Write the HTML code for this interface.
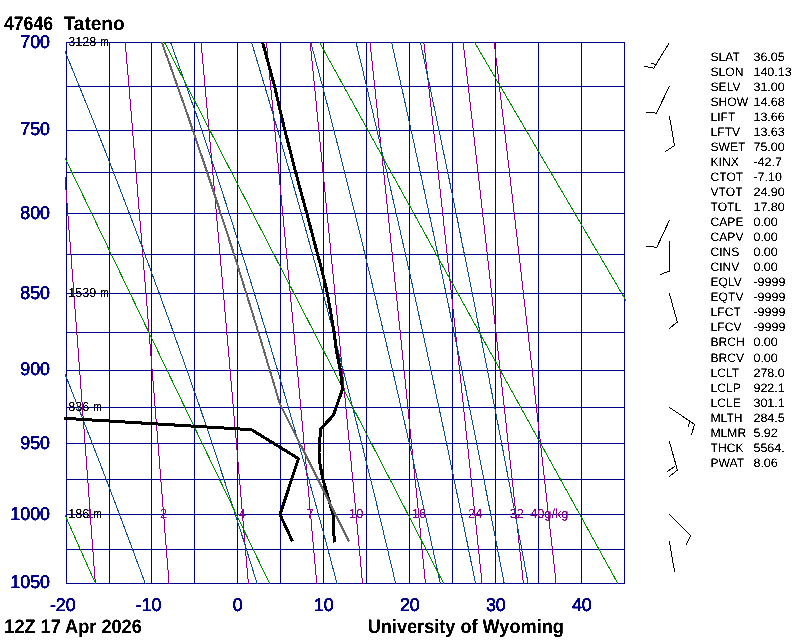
<!DOCTYPE html>
<html><head><meta charset="utf-8"><title>47646 Tateno Sounding</title>
<style>
html,body{margin:0;padding:0;background:#fff;}
body{width:800px;height:640px;overflow:hidden;}
svg{display:block;font-family:"Liberation Sans",Arial,Helvetica,sans-serif;}
</style></head><body>
<svg width="800" height="640" viewBox="0 0 800 640" shape-rendering="crispEdges" text-rendering="geometricPrecision">
<defs><filter id="th" color-interpolation-filters="sRGB"><feComponentTransfer><feFuncA type="linear" slope="3" intercept="-0.8"/></feComponentTransfer></filter><clipPath id="c"><rect x="65" y="42" width="561" height="542"/></clipPath></defs>
<rect width="800" height="640" fill="#fff"/>
<path d="M66.5 42V584M109.5 42V584M151.5 42V584M194.5 42V584M237.5 42V584M280.5 42V584M323.5 42V584M366.5 42V584M409.5 42V584M452.5 42V584M495.5 42V584M538.5 42V584M581.5 42V584M624.5 42V584M66 42.5H625M66 86.5H625M66 130.5H625M66 172.5H625M66 213.5H625M66 254.5H625M66 293.5H625M66 332.5H625M66 370.5H625M66 407.5H625M66 443.5H625M66 479.5H625M66 514.5H625M66 549.5H625M66 583.5H625" stroke="#00008b" stroke-width="1" fill="none"/>
<g clip-path="url(#c)">
<path d="M54.5 40.5L54.7 43.5L54.9 46.5L55.2 49.5L55.4 52.5L55.7 55.5L55.9 58.5L56.1 61.5L56.4 64.5L56.6 67.5L56.8 70.5L57.1 73.5L57.3 76.5L57.5 79.5L57.8 82.5L58.0 85.5L58.2 88.5L58.4 91.5L58.7 94.5L58.9 97.5L59.1 100.5L59.4 103.5L59.6 106.5L59.8 109.5L60.1 112.5L60.3 115.5L60.5 118.5L60.8 121.5L61.0 124.5L61.2 127.5L61.5 130.5L61.7 133.5L61.9 136.5L62.2 139.5L62.4 142.5L62.6 145.5L62.9 148.5L63.1 151.5L63.3 154.5L63.5 157.5L63.8 160.5L64.0 163.5L64.2 166.5L64.5 169.5L64.7 172.5L64.9 175.5L65.2 178.5L65.4 181.5L65.6 184.5L65.8 187.5L66.1 190.5L66.3 193.5L66.5 196.5L66.8 199.5L67.0 202.5L67.2 205.5L67.4 208.5L67.7 211.5L67.9 214.5L68.1 217.5L68.4 220.5L68.6 223.5L68.8 226.5L69.0 229.5L69.3 232.5L69.5 235.5L69.7 238.5L70.0 241.5L70.2 244.5L70.4 247.5L70.6 250.5L70.9 253.5L71.1 256.5L71.3 259.5L71.5 262.5L71.8 265.5L72.0 268.5L72.2 271.5L72.5 274.5L72.7 277.5L72.9 280.5L73.1 283.5L73.4 286.5L73.6 289.5L73.8 292.5L74.0 295.5L74.3 298.5L74.5 301.5L74.7 304.5L74.9 307.5L75.2 310.5L75.4 313.5L75.6 316.5L75.8 319.5L76.1 322.5L76.3 325.5L76.5 328.5L76.7 331.5L77.0 334.5L77.2 337.5L77.4 340.5L77.6 343.5L77.9 346.5L78.1 349.5L78.3 352.5L78.5 355.5L78.8 358.5L79.0 361.5L79.2 364.5L79.4 367.5L79.7 370.5L79.9 373.5L80.1 376.5L80.3 379.5L80.6 382.5L80.8 385.5L81.0 388.5L81.2 391.5L81.4 394.5L81.7 397.5L81.9 400.5L82.1 403.5L82.3 406.5L82.6 409.5L82.8 412.5L83.0 415.5L83.2 418.5L83.4 421.5L83.7 424.5L83.9 427.5L84.1 430.5L84.3 433.5L84.6 436.5L84.8 439.5L85.0 442.5L85.2 445.5L85.4 448.5L85.7 451.5L85.9 454.5L86.1 457.5L86.3 460.5L86.5 463.5L86.8 466.5L87.0 469.5L87.2 472.5L87.4 475.5L87.6 478.5L87.9 481.5L88.1 484.5L88.3 487.5L88.5 490.5L88.8 493.5L89.0 496.5L89.2 499.5L89.4 502.5L89.6 505.5L89.8 508.5L90.1 511.5L90.3 514.5L90.5 517.5L90.7 520.5L90.9 523.5L91.2 526.5L91.4 529.5L91.6 532.5L91.8 535.5L92.0 538.5L92.3 541.5L92.5 544.5L92.7 547.5L92.9 550.5L93.1 553.5L93.3 556.5L93.6 559.5L93.8 562.5L94.0 565.5L94.2 568.5L94.4 571.5L94.7 574.5L94.9 577.5L95.1 580.5L95.3 583.5L95.5 586.5" stroke="#8b008b" stroke-width="1" fill="none" />
<path d="M125.1 40.5L125.3 43.5L125.6 46.5L125.8 49.5L126.1 52.5L126.3 55.5L126.6 58.5L126.8 61.5L127.1 64.5L127.3 67.5L127.6 70.5L127.9 73.5L128.1 76.5L128.4 79.5L128.6 82.5L128.9 85.5L129.1 88.5L129.4 91.5L129.6 94.5L129.9 97.5L130.1 100.5L130.4 103.5L130.6 106.5L130.9 109.5L131.1 112.5L131.4 115.5L131.6 118.5L131.9 121.5L132.1 124.5L132.3 127.5L132.6 130.5L132.8 133.5L133.1 136.5L133.3 139.5L133.6 142.5L133.8 145.5L134.1 148.5L134.3 151.5L134.6 154.5L134.8 157.5L135.1 160.5L135.3 163.5L135.6 166.5L135.8 169.5L136.1 172.5L136.3 175.5L136.6 178.5L136.8 181.5L137.1 184.5L137.3 187.5L137.6 190.5L137.8 193.5L138.0 196.5L138.3 199.5L138.5 202.5L138.8 205.5L139.0 208.5L139.3 211.5L139.5 214.5L139.8 217.5L140.0 220.5L140.3 223.5L140.5 226.5L140.8 229.5L141.0 232.5L141.2 235.5L141.5 238.5L141.7 241.5L142.0 244.5L142.2 247.5L142.5 250.5L142.7 253.5L143.0 256.5L143.2 259.5L143.4 262.5L143.7 265.5L143.9 268.5L144.2 271.5L144.4 274.5L144.7 277.5L144.9 280.5L145.2 283.5L145.4 286.5L145.6 289.5L145.9 292.5L146.1 295.5L146.4 298.5L146.6 301.5L146.9 304.5L147.1 307.5L147.3 310.5L147.6 313.5L147.8 316.5L148.1 319.5L148.3 322.5L148.6 325.5L148.8 328.5L149.0 331.5L149.3 334.5L149.5 337.5L149.8 340.5L150.0 343.5L150.2 346.5L150.5 349.5L150.7 352.5L151.0 355.5L151.2 358.5L151.5 361.5L151.7 364.5L151.9 367.5L152.2 370.5L152.4 373.5L152.7 376.5L152.9 379.5L153.1 382.5L153.4 385.5L153.6 388.5L153.9 391.5L154.1 394.5L154.3 397.5L154.6 400.5L154.8 403.5L155.1 406.5L155.3 409.5L155.5 412.5L155.8 415.5L156.0 418.5L156.3 421.5L156.5 424.5L156.7 427.5L157.0 430.5L157.2 433.5L157.4 436.5L157.7 439.5L157.9 442.5L158.2 445.5L158.4 448.5L158.6 451.5L158.9 454.5L159.1 457.5L159.4 460.5L159.6 463.5L159.8 466.5L160.1 469.5L160.3 472.5L160.5 475.5L160.8 478.5L161.0 481.5L161.3 484.5L161.5 487.5L161.7 490.5L162.0 493.5L162.2 496.5L162.4 499.5L162.7 502.5L162.9 505.5L163.1 508.5L163.4 511.5L163.6 514.5L163.9 517.5L164.1 520.5L164.3 523.5L164.6 526.5L164.8 529.5L165.0 532.5L165.3 535.5L165.5 538.5L165.7 541.5L166.0 544.5L166.2 547.5L166.4 550.5L166.7 553.5L166.9 556.5L167.2 559.5L167.4 562.5L167.6 565.5L167.9 568.5L168.1 571.5L168.3 574.5L168.6 577.5L168.8 580.5L169.0 583.5L169.3 586.5" stroke="#8b008b" stroke-width="1" fill="none" />
<path d="M200.9 40.5L201.2 43.5L201.5 46.5L201.8 49.5L202.0 52.5L202.3 55.5L202.6 58.5L202.8 61.5L203.1 64.5L203.4 67.5L203.7 70.5L203.9 73.5L204.2 76.5L204.5 79.5L204.7 82.5L205.0 85.5L205.3 88.5L205.5 91.5L205.8 94.5L206.1 97.5L206.4 100.5L206.6 103.5L206.9 106.5L207.2 109.5L207.4 112.5L207.7 115.5L208.0 118.5L208.2 121.5L208.5 124.5L208.8 127.5L209.0 130.5L209.3 133.5L209.6 136.5L209.8 139.5L210.1 142.5L210.4 145.5L210.6 148.5L210.9 151.5L211.2 154.5L211.5 157.5L211.7 160.5L212.0 163.5L212.3 166.5L212.5 169.5L212.8 172.5L213.1 175.5L213.3 178.5L213.6 181.5L213.9 184.5L214.1 187.5L214.4 190.5L214.7 193.5L214.9 196.5L215.2 199.5L215.4 202.5L215.7 205.5L216.0 208.5L216.2 211.5L216.5 214.5L216.8 217.5L217.0 220.5L217.3 223.5L217.6 226.5L217.8 229.5L218.1 232.5L218.4 235.5L218.6 238.5L218.9 241.5L219.2 244.5L219.4 247.5L219.7 250.5L220.0 253.5L220.2 256.5L220.5 259.5L220.7 262.5L221.0 265.5L221.3 268.5L221.5 271.5L221.8 274.5L222.1 277.5L222.3 280.5L222.6 283.5L222.8 286.5L223.1 289.5L223.4 292.5L223.6 295.5L223.9 298.5L224.2 301.5L224.4 304.5L224.7 307.5L224.9 310.5L225.2 313.5L225.5 316.5L225.7 319.5L226.0 322.5L226.3 325.5L226.5 328.5L226.8 331.5L227.0 334.5L227.3 337.5L227.6 340.5L227.8 343.5L228.1 346.5L228.3 349.5L228.6 352.5L228.9 355.5L229.1 358.5L229.4 361.5L229.6 364.5L229.9 367.5L230.2 370.5L230.4 373.5L230.7 376.5L230.9 379.5L231.2 382.5L231.5 385.5L231.7 388.5L232.0 391.5L232.2 394.5L232.5 397.5L232.8 400.5L233.0 403.5L233.3 406.5L233.5 409.5L233.8 412.5L234.0 415.5L234.3 418.5L234.6 421.5L234.8 424.5L235.1 427.5L235.3 430.5L235.6 433.5L235.9 436.5L236.1 439.5L236.4 442.5L236.6 445.5L236.9 448.5L237.1 451.5L237.4 454.5L237.7 457.5L237.9 460.5L238.2 463.5L238.4 466.5L238.7 469.5L238.9 472.5L239.2 475.5L239.5 478.5L239.7 481.5L240.0 484.5L240.2 487.5L240.5 490.5L240.7 493.5L241.0 496.5L241.2 499.5L241.5 502.5L241.8 505.5L242.0 508.5L242.3 511.5L242.5 514.5L242.8 517.5L243.0 520.5L243.3 523.5L243.5 526.5L243.8 529.5L244.0 532.5L244.3 535.5L244.6 538.5L244.8 541.5L245.1 544.5L245.3 547.5L245.6 550.5L245.8 553.5L246.1 556.5L246.3 559.5L246.6 562.5L246.8 565.5L247.1 568.5L247.3 571.5L247.6 574.5L247.9 577.5L248.1 580.5L248.4 583.5L248.6 586.5" stroke="#8b008b" stroke-width="1" fill="none" />
<path d="M266.3 40.5L266.6 43.5L266.9 46.5L267.2 49.5L267.5 52.5L267.7 55.5L268.0 58.5L268.3 61.5L268.6 64.5L268.9 67.5L269.2 70.5L269.5 73.5L269.8 76.5L270.0 79.5L270.3 82.5L270.6 85.5L270.9 88.5L271.2 91.5L271.5 94.5L271.8 97.5L272.1 100.5L272.3 103.5L272.6 106.5L272.9 109.5L273.2 112.5L273.5 115.5L273.8 118.5L274.1 121.5L274.3 124.5L274.6 127.5L274.9 130.5L275.2 133.5L275.5 136.5L275.8 139.5L276.1 142.5L276.3 145.5L276.6 148.5L276.9 151.5L277.2 154.5L277.5 157.5L277.8 160.5L278.1 163.5L278.3 166.5L278.6 169.5L278.9 172.5L279.2 175.5L279.5 178.5L279.8 181.5L280.0 184.5L280.3 187.5L280.6 190.5L280.9 193.5L281.2 196.5L281.5 199.5L281.7 202.5L282.0 205.5L282.3 208.5L282.6 211.5L282.9 214.5L283.2 217.5L283.4 220.5L283.7 223.5L284.0 226.5L284.3 229.5L284.6 232.5L284.9 235.5L285.1 238.5L285.4 241.5L285.7 244.5L286.0 247.5L286.3 250.5L286.5 253.5L286.8 256.5L287.1 259.5L287.4 262.5L287.7 265.5L287.9 268.5L288.2 271.5L288.5 274.5L288.8 277.5L289.1 280.5L289.3 283.5L289.6 286.5L289.9 289.5L290.2 292.5L290.5 295.5L290.7 298.5L291.0 301.5L291.3 304.5L291.6 307.5L291.9 310.5L292.1 313.5L292.4 316.5L292.7 319.5L293.0 322.5L293.3 325.5L293.5 328.5L293.8 331.5L294.1 334.5L294.4 337.5L294.6 340.5L294.9 343.5L295.2 346.5L295.5 349.5L295.8 352.5L296.0 355.5L296.3 358.5L296.6 361.5L296.9 364.5L297.1 367.5L297.4 370.5L297.7 373.5L298.0 376.5L298.3 379.5L298.5 382.5L298.8 385.5L299.1 388.5L299.4 391.5L299.6 394.5L299.9 397.5L300.2 400.5L300.5 403.5L300.7 406.5L301.0 409.5L301.3 412.5L301.6 415.5L301.8 418.5L302.1 421.5L302.4 424.5L302.7 427.5L302.9 430.5L303.2 433.5L303.5 436.5L303.8 439.5L304.0 442.5L304.3 445.5L304.6 448.5L304.9 451.5L305.1 454.5L305.4 457.5L305.7 460.5L306.0 463.5L306.2 466.5L306.5 469.5L306.8 472.5L307.0 475.5L307.3 478.5L307.6 481.5L307.9 484.5L308.1 487.5L308.4 490.5L308.7 493.5L309.0 496.5L309.2 499.5L309.5 502.5L309.8 505.5L310.0 508.5L310.3 511.5L310.6 514.5L310.9 517.5L311.1 520.5L311.4 523.5L311.7 526.5L311.9 529.5L312.2 532.5L312.5 535.5L312.8 538.5L313.0 541.5L313.3 544.5L313.6 547.5L313.8 550.5L314.1 553.5L314.4 556.5L314.7 559.5L314.9 562.5L315.2 565.5L315.5 568.5L315.7 571.5L316.0 574.5L316.3 577.5L316.5 580.5L316.8 583.5L317.1 586.5" stroke="#8b008b" stroke-width="1" fill="none" />
<path d="M309.9 40.5L310.2 43.5L310.5 46.5L310.9 49.5L311.2 52.5L311.5 55.5L311.8 58.5L312.1 61.5L312.4 64.5L312.7 67.5L313.0 70.5L313.3 73.5L313.6 76.5L313.9 79.5L314.2 82.5L314.5 85.5L314.8 88.5L315.1 91.5L315.4 94.5L315.7 97.5L316.0 100.5L316.2 103.5L316.5 106.5L316.8 109.5L317.1 112.5L317.4 115.5L317.7 118.5L318.0 121.5L318.3 124.5L318.6 127.5L318.9 130.5L319.2 133.5L319.5 136.5L319.8 139.5L320.1 142.5L320.4 145.5L320.7 148.5L321.0 151.5L321.3 154.5L321.6 157.5L321.9 160.5L322.2 163.5L322.5 166.5L322.8 169.5L323.1 172.5L323.4 175.5L323.7 178.5L324.0 181.5L324.3 184.5L324.6 187.5L324.9 190.5L325.2 193.5L325.5 196.5L325.7 199.5L326.0 202.5L326.3 205.5L326.6 208.5L326.9 211.5L327.2 214.5L327.5 217.5L327.8 220.5L328.1 223.5L328.4 226.5L328.7 229.5L329.0 232.5L329.3 235.5L329.6 238.5L329.9 241.5L330.2 244.5L330.5 247.5L330.7 250.5L331.0 253.5L331.3 256.5L331.6 259.5L331.9 262.5L332.2 265.5L332.5 268.5L332.8 271.5L333.1 274.5L333.4 277.5L333.7 280.5L334.0 283.5L334.3 286.5L334.5 289.5L334.8 292.5L335.1 295.5L335.4 298.5L335.7 301.5L336.0 304.5L336.3 307.5L336.6 310.5L336.9 313.5L337.2 316.5L337.5 319.5L337.7 322.5L338.0 325.5L338.3 328.5L338.6 331.5L338.9 334.5L339.2 337.5L339.5 340.5L339.8 343.5L340.1 346.5L340.4 349.5L340.6 352.5L340.9 355.5L341.2 358.5L341.5 361.5L341.8 364.5L342.1 367.5L342.4 370.5L342.7 373.5L343.0 376.5L343.2 379.5L343.5 382.5L343.8 385.5L344.1 388.5L344.4 391.5L344.7 394.5L345.0 397.5L345.3 400.5L345.5 403.5L345.8 406.5L346.1 409.5L346.4 412.5L346.7 415.5L347.0 418.5L347.3 421.5L347.6 424.5L347.8 427.5L348.1 430.5L348.4 433.5L348.7 436.5L349.0 439.5L349.3 442.5L349.6 445.5L349.8 448.5L350.1 451.5L350.4 454.5L350.7 457.5L351.0 460.5L351.3 463.5L351.6 466.5L351.8 469.5L352.1 472.5L352.4 475.5L352.7 478.5L353.0 481.5L353.3 484.5L353.6 487.5L353.8 490.5L354.1 493.5L354.4 496.5L354.7 499.5L355.0 502.5L355.3 505.5L355.5 508.5L355.8 511.5L356.1 514.5L356.4 517.5L356.7 520.5L357.0 523.5L357.2 526.5L357.5 529.5L357.8 532.5L358.1 535.5L358.4 538.5L358.7 541.5L358.9 544.5L359.2 547.5L359.5 550.5L359.8 553.5L360.1 556.5L360.3 559.5L360.6 562.5L360.9 565.5L361.2 568.5L361.5 571.5L361.8 574.5L362.0 577.5L362.3 580.5L362.6 583.5L362.9 586.5" stroke="#8b008b" stroke-width="1" fill="none" />
<path d="M369.9 40.5L370.2 43.5L370.5 46.5L370.8 49.5L371.1 52.5L371.5 55.5L371.8 58.5L372.1 61.5L372.4 64.5L372.7 67.5L373.0 70.5L373.4 73.5L373.7 76.5L374.0 79.5L374.3 82.5L374.6 85.5L374.9 88.5L375.3 91.5L375.6 94.5L375.9 97.5L376.2 100.5L376.5 103.5L376.8 106.5L377.2 109.5L377.5 112.5L377.8 115.5L378.1 118.5L378.4 121.5L378.7 124.5L379.0 127.5L379.4 130.5L379.7 133.5L380.0 136.5L380.3 139.5L380.6 142.5L380.9 145.5L381.2 148.5L381.6 151.5L381.9 154.5L382.2 157.5L382.5 160.5L382.8 163.5L383.1 166.5L383.4 169.5L383.8 172.5L384.1 175.5L384.4 178.5L384.7 181.5L385.0 184.5L385.3 187.5L385.6 190.5L385.9 193.5L386.3 196.5L386.6 199.5L386.9 202.5L387.2 205.5L387.5 208.5L387.8 211.5L388.1 214.5L388.4 217.5L388.7 220.5L389.1 223.5L389.4 226.5L389.7 229.5L390.0 232.5L390.3 235.5L390.6 238.5L390.9 241.5L391.2 244.5L391.5 247.5L391.8 250.5L392.2 253.5L392.5 256.5L392.8 259.5L393.1 262.5L393.4 265.5L393.7 268.5L394.0 271.5L394.3 274.5L394.6 277.5L394.9 280.5L395.2 283.5L395.6 286.5L395.9 289.5L396.2 292.5L396.5 295.5L396.8 298.5L397.1 301.5L397.4 304.5L397.7 307.5L398.0 310.5L398.3 313.5L398.6 316.5L398.9 319.5L399.2 322.5L399.6 325.5L399.9 328.5L400.2 331.5L400.5 334.5L400.8 337.5L401.1 340.5L401.4 343.5L401.7 346.5L402.0 349.5L402.3 352.5L402.6 355.5L402.9 358.5L403.2 361.5L403.5 364.5L403.8 367.5L404.1 370.5L404.4 373.5L404.7 376.5L405.1 379.5L405.4 382.5L405.7 385.5L406.0 388.5L406.3 391.5L406.6 394.5L406.9 397.5L407.2 400.5L407.5 403.5L407.8 406.5L408.1 409.5L408.4 412.5L408.7 415.5L409.0 418.5L409.3 421.5L409.6 424.5L409.9 427.5L410.2 430.5L410.5 433.5L410.8 436.5L411.1 439.5L411.4 442.5L411.7 445.5L412.0 448.5L412.3 451.5L412.6 454.5L412.9 457.5L413.2 460.5L413.5 463.5L413.8 466.5L414.1 469.5L414.4 472.5L414.7 475.5L415.0 478.5L415.3 481.5L415.7 484.5L416.0 487.5L416.3 490.5L416.6 493.5L416.9 496.5L417.2 499.5L417.5 502.5L417.8 505.5L418.1 508.5L418.4 511.5L418.7 514.5L419.0 517.5L419.3 520.5L419.6 523.5L419.9 526.5L420.2 529.5L420.4 532.5L420.7 535.5L421.0 538.5L421.3 541.5L421.6 544.5L421.9 547.5L422.2 550.5L422.5 553.5L422.8 556.5L423.1 559.5L423.4 562.5L423.7 565.5L424.0 568.5L424.3 571.5L424.6 574.5L424.9 577.5L425.2 580.5L425.5 583.5L425.8 586.5" stroke="#8b008b" stroke-width="1" fill="none" />
<path d="M423.7 40.5L424.0 43.5L424.4 46.5L424.7 49.5L425.0 52.5L425.4 55.5L425.7 58.5L426.0 61.5L426.4 64.5L426.7 67.5L427.0 70.5L427.4 73.5L427.7 76.5L428.0 79.5L428.4 82.5L428.7 85.5L429.0 88.5L429.3 91.5L429.7 94.5L430.0 97.5L430.3 100.5L430.7 103.5L431.0 106.5L431.3 109.5L431.7 112.5L432.0 115.5L432.3 118.5L432.7 121.5L433.0 124.5L433.3 127.5L433.7 130.5L434.0 133.5L434.3 136.5L434.6 139.5L435.0 142.5L435.3 145.5L435.6 148.5L436.0 151.5L436.3 154.5L436.6 157.5L436.9 160.5L437.3 163.5L437.6 166.5L437.9 169.5L438.3 172.5L438.6 175.5L438.9 178.5L439.2 181.5L439.6 184.5L439.9 187.5L440.2 190.5L440.6 193.5L440.9 196.5L441.2 199.5L441.5 202.5L441.9 205.5L442.2 208.5L442.5 211.5L442.8 214.5L443.2 217.5L443.5 220.5L443.8 223.5L444.1 226.5L444.5 229.5L444.8 232.5L445.1 235.5L445.4 238.5L445.8 241.5L446.1 244.5L446.4 247.5L446.8 250.5L447.1 253.5L447.4 256.5L447.7 259.5L448.0 262.5L448.4 265.5L448.7 268.5L449.0 271.5L449.3 274.5L449.7 277.5L450.0 280.5L450.3 283.5L450.6 286.5L451.0 289.5L451.3 292.5L451.6 295.5L451.9 298.5L452.3 301.5L452.6 304.5L452.9 307.5L453.2 310.5L453.5 313.5L453.9 316.5L454.2 319.5L454.5 322.5L454.8 325.5L455.2 328.5L455.5 331.5L455.8 334.5L456.1 337.5L456.4 340.5L456.8 343.5L457.1 346.5L457.4 349.5L457.7 352.5L458.1 355.5L458.4 358.5L458.7 361.5L459.0 364.5L459.3 367.5L459.7 370.5L460.0 373.5L460.3 376.5L460.6 379.5L460.9 382.5L461.3 385.5L461.6 388.5L461.9 391.5L462.2 394.5L462.5 397.5L462.9 400.5L463.2 403.5L463.5 406.5L463.8 409.5L464.1 412.5L464.4 415.5L464.8 418.5L465.1 421.5L465.4 424.5L465.7 427.5L466.0 430.5L466.4 433.5L466.7 436.5L467.0 439.5L467.3 442.5L467.6 445.5L467.9 448.5L468.3 451.5L468.6 454.5L468.9 457.5L469.2 460.5L469.5 463.5L469.8 466.5L470.2 469.5L470.5 472.5L470.8 475.5L471.1 478.5L471.4 481.5L471.7 484.5L472.1 487.5L472.4 490.5L472.7 493.5L473.0 496.5L473.3 499.5L473.6 502.5L474.0 505.5L474.3 508.5L474.6 511.5L474.9 514.5L475.2 517.5L475.5 520.5L475.8 523.5L476.2 526.5L476.5 529.5L476.8 532.5L477.1 535.5L477.4 538.5L477.7 541.5L478.0 544.5L478.4 547.5L478.7 550.5L479.0 553.5L479.3 556.5L479.6 559.5L479.9 562.5L480.2 565.5L480.5 568.5L480.9 571.5L481.2 574.5L481.5 577.5L481.8 580.5L482.1 583.5L482.4 586.5" stroke="#8b008b" stroke-width="1" fill="none" />
<path d="M463.0 40.5L463.3 43.5L463.7 46.5L464.0 49.5L464.4 52.5L464.7 55.5L465.1 58.5L465.4 61.5L465.7 64.5L466.1 67.5L466.4 70.5L466.8 73.5L467.1 76.5L467.5 79.5L467.8 82.5L468.2 85.5L468.5 88.5L468.8 91.5L469.2 94.5L469.5 97.5L469.9 100.5L470.2 103.5L470.6 106.5L470.9 109.5L471.2 112.5L471.6 115.5L471.9 118.5L472.3 121.5L472.6 124.5L472.9 127.5L473.3 130.5L473.6 133.5L474.0 136.5L474.3 139.5L474.7 142.5L475.0 145.5L475.3 148.5L475.7 151.5L476.0 154.5L476.4 157.5L476.7 160.5L477.0 163.5L477.4 166.5L477.7 169.5L478.1 172.5L478.4 175.5L478.7 178.5L479.1 181.5L479.4 184.5L479.8 187.5L480.1 190.5L480.4 193.5L480.8 196.5L481.1 199.5L481.5 202.5L481.8 205.5L482.1 208.5L482.5 211.5L482.8 214.5L483.1 217.5L483.5 220.5L483.8 223.5L484.2 226.5L484.5 229.5L484.8 232.5L485.2 235.5L485.5 238.5L485.8 241.5L486.2 244.5L486.5 247.5L486.9 250.5L487.2 253.5L487.5 256.5L487.9 259.5L488.2 262.5L488.5 265.5L488.9 268.5L489.2 271.5L489.5 274.5L489.9 277.5L490.2 280.5L490.5 283.5L490.9 286.5L491.2 289.5L491.5 292.5L491.9 295.5L492.2 298.5L492.6 301.5L492.9 304.5L493.2 307.5L493.6 310.5L493.9 313.5L494.2 316.5L494.6 319.5L494.9 322.5L495.2 325.5L495.6 328.5L495.9 331.5L496.2 334.5L496.6 337.5L496.9 340.5L497.2 343.5L497.6 346.5L497.9 349.5L498.2 352.5L498.6 355.5L498.9 358.5L499.2 361.5L499.5 364.5L499.9 367.5L500.2 370.5L500.5 373.5L500.9 376.5L501.2 379.5L501.5 382.5L501.9 385.5L502.2 388.5L502.5 391.5L502.9 394.5L503.2 397.5L503.5 400.5L503.9 403.5L504.2 406.5L504.5 409.5L504.8 412.5L505.2 415.5L505.5 418.5L505.8 421.5L506.2 424.5L506.5 427.5L506.8 430.5L507.1 433.5L507.5 436.5L507.8 439.5L508.1 442.5L508.5 445.5L508.8 448.5L509.1 451.5L509.4 454.5L509.8 457.5L510.1 460.5L510.4 463.5L510.8 466.5L511.1 469.5L511.4 472.5L511.7 475.5L512.1 478.5L512.4 481.5L512.7 484.5L513.1 487.5L513.4 490.5L513.7 493.5L514.0 496.5L514.4 499.5L514.7 502.5L515.0 505.5L515.3 508.5L515.7 511.5L516.0 514.5L516.3 517.5L516.6 520.5L517.0 523.5L517.3 526.5L517.6 529.5L517.9 532.5L518.3 535.5L518.6 538.5L518.9 541.5L519.2 544.5L519.6 547.5L519.9 550.5L520.2 553.5L520.5 556.5L520.9 559.5L521.2 562.5L521.5 565.5L521.8 568.5L522.2 571.5L522.5 574.5L522.8 577.5L523.1 580.5L523.5 583.5L523.8 586.5" stroke="#8b008b" stroke-width="1" fill="none" />
<path d="M494.0 40.5L494.4 43.5L494.7 46.5L495.1 49.5L495.4 52.5L495.8 55.5L496.1 58.5L496.5 61.5L496.9 64.5L497.2 67.5L497.6 70.5L497.9 73.5L498.3 76.5L498.6 79.5L499.0 82.5L499.3 85.5L499.7 88.5L500.0 91.5L500.4 94.5L500.7 97.5L501.1 100.5L501.4 103.5L501.8 106.5L502.1 109.5L502.5 112.5L502.9 115.5L503.2 118.5L503.6 121.5L503.9 124.5L504.3 127.5L504.6 130.5L505.0 133.5L505.3 136.5L505.7 139.5L506.0 142.5L506.4 145.5L506.7 148.5L507.1 151.5L507.4 154.5L507.8 157.5L508.1 160.5L508.5 163.5L508.8 166.5L509.2 169.5L509.5 172.5L509.9 175.5L510.2 178.5L510.6 181.5L510.9 184.5L511.2 187.5L511.6 190.5L511.9 193.5L512.3 196.5L512.6 199.5L513.0 202.5L513.3 205.5L513.7 208.5L514.0 211.5L514.4 214.5L514.7 217.5L515.1 220.5L515.4 223.5L515.8 226.5L516.1 229.5L516.5 232.5L516.8 235.5L517.2 238.5L517.5 241.5L517.8 244.5L518.2 247.5L518.5 250.5L518.9 253.5L519.2 256.5L519.6 259.5L519.9 262.5L520.3 265.5L520.6 268.5L521.0 271.5L521.3 274.5L521.6 277.5L522.0 280.5L522.3 283.5L522.7 286.5L523.0 289.5L523.4 292.5L523.7 295.5L524.0 298.5L524.4 301.5L524.7 304.5L525.1 307.5L525.4 310.5L525.8 313.5L526.1 316.5L526.5 319.5L526.8 322.5L527.1 325.5L527.5 328.5L527.8 331.5L528.2 334.5L528.5 337.5L528.8 340.5L529.2 343.5L529.5 346.5L529.9 349.5L530.2 352.5L530.6 355.5L530.9 358.5L531.2 361.5L531.6 364.5L531.9 367.5L532.3 370.5L532.6 373.5L532.9 376.5L533.3 379.5L533.6 382.5L534.0 385.5L534.3 388.5L534.6 391.5L535.0 394.5L535.3 397.5L535.7 400.5L536.0 403.5L536.3 406.5L536.7 409.5L537.0 412.5L537.4 415.5L537.7 418.5L538.0 421.5L538.4 424.5L538.7 427.5L539.0 430.5L539.4 433.5L539.7 436.5L540.1 439.5L540.4 442.5L540.7 445.5L541.1 448.5L541.4 451.5L541.8 454.5L542.1 457.5L542.4 460.5L542.8 463.5L543.1 466.5L543.4 469.5L543.8 472.5L544.1 475.5L544.4 478.5L544.8 481.5L545.1 484.5L545.5 487.5L545.8 490.5L546.1 493.5L546.5 496.5L546.8 499.5L547.1 502.5L547.5 505.5L547.8 508.5L548.1 511.5L548.5 514.5L548.8 517.5L549.1 520.5L549.5 523.5L549.8 526.5L550.1 529.5L550.5 532.5L550.8 535.5L551.2 538.5L551.5 541.5L551.8 544.5L552.2 547.5L552.5 550.5L552.8 553.5L553.2 556.5L553.5 559.5L553.8 562.5L554.2 565.5L554.5 568.5L554.8 571.5L555.2 574.5L555.5 577.5L555.8 580.5L556.1 583.5L556.5 586.5" stroke="#8b008b" stroke-width="1" fill="none" />
<path d="M-75.0 40.5L-73.7 43.5L-72.4 46.5L-71.1 49.5L-69.8 52.5L-68.5 55.5L-67.2 58.5L-65.9 61.5L-64.5 64.5L-63.2 67.5L-61.9 70.5L-60.6 73.5L-59.3 76.5L-58.0 79.5L-56.7 82.5L-55.4 85.5L-54.1 88.5L-52.8 91.5L-51.5 94.5L-50.2 97.5L-48.9 100.5L-47.6 103.5L-46.3 106.5L-45.0 109.5L-43.7 112.5L-42.4 115.5L-41.1 118.5L-39.8 121.5L-38.6 124.5L-37.3 127.5L-36.0 130.5L-34.7 133.5L-33.4 136.5L-32.1 139.5L-30.8 142.5L-29.5 145.5L-28.3 148.5L-27.0 151.5L-25.7 154.5L-24.4 157.5L-23.1 160.5L-21.9 163.5L-20.6 166.5L-19.3 169.5L-18.0 172.5L-16.8 175.5L-15.5 178.5L-14.2 181.5L-12.9 184.5L-11.7 187.5L-10.4 190.5L-9.1 193.5L-7.9 196.5L-6.6 199.5L-5.3 202.5L-4.1 205.5L-2.8 208.5L-1.6 211.5L-0.3 214.5L1.0 217.5L2.2 220.5L3.5 223.5L4.7 226.5L6.0 229.5L7.2 232.5L8.5 235.5L9.7 238.5L11.0 241.5L12.2 244.5L13.5 247.5L14.7 250.5L16.0 253.5L17.2 256.5L18.5 259.5L19.7 262.5L21.0 265.5L22.2 268.5L23.4 271.5L24.7 274.5L25.9 277.5L27.1 280.5L28.4 283.5L29.6 286.5L30.8 289.5L32.1 292.5L33.3 295.5L34.5 298.5L35.7 301.5L37.0 304.5L38.2 307.5L39.4 310.5L40.6 313.5L41.9 316.5L43.1 319.5L44.3 322.5L45.5 325.5L46.7 328.5L47.9 331.5L49.2 334.5L50.4 337.5L51.6 340.5L52.8 343.5L54.0 346.5L55.2 349.5L56.4 352.5L57.6 355.5L58.8 358.5L60.0 361.5L61.2 364.5L62.4 367.5L63.6 370.5L64.8 373.5L66.0 376.5L67.2 379.5L68.4 382.5L69.6 385.5L70.8 388.5L71.9 391.5L73.1 394.5L74.3 397.5L75.5 400.5L76.7 403.5L77.9 406.5L79.0 409.5L80.2 412.5L81.4 415.5L82.6 418.5L83.7 421.5L84.9 424.5L86.1 427.5L87.3 430.5L88.4 433.5L89.6 436.5L90.8 439.5L91.9 442.5L93.1 445.5L94.3 448.5L95.4 451.5L96.6 454.5L97.7 457.5L98.9 460.5L100.1 463.5L101.2 466.5L102.4 469.5L103.5 472.5L104.7 475.5L105.8 478.5L107.0 481.5L108.1 484.5L109.2 487.5L110.4 490.5L111.5 493.5L112.7 496.5L113.8 499.5L115.0 502.5L116.1 505.5L117.2 508.5L118.4 511.5L119.5 514.5L120.6 517.5L121.8 520.5L122.9 523.5L124.0 526.5L125.1 529.5L126.3 532.5L127.4 535.5L128.5 538.5L129.6 541.5L130.8 544.5L131.9 547.5L133.0 550.5L134.1 553.5L135.2 556.5L136.3 559.5L137.4 562.5L138.6 565.5L139.7 568.5L140.8 571.5L141.9 574.5L143.0 577.5L144.1 580.5L145.2 583.5L146.3 586.5" stroke="#104e8b" stroke-width="1" fill="none" />
<path d="M60.5 40.5L61.8 43.5L63.0 46.5L64.2 49.5L65.5 52.5L66.7 55.5L67.9 58.5L69.2 61.5L70.4 64.5L71.6 67.5L72.9 70.5L74.1 73.5L75.3 76.5L76.5 79.5L77.8 82.5L79.0 85.5L80.2 88.5L81.4 91.5L82.6 94.5L83.8 97.5L85.0 100.5L86.3 103.5L87.5 106.5L88.7 109.5L89.9 112.5L91.1 115.5L92.3 118.5L93.5 121.5L94.7 124.5L95.9 127.5L97.1 130.5L98.2 133.5L99.4 136.5L100.6 139.5L101.8 142.5L103.0 145.5L104.2 148.5L105.4 151.5L106.5 154.5L107.7 157.5L108.9 160.5L110.1 163.5L111.2 166.5L112.4 169.5L113.6 172.5L114.7 175.5L115.9 178.5L117.1 181.5L118.2 184.5L119.4 187.5L120.6 190.5L121.7 193.5L122.9 196.5L124.0 199.5L125.2 202.5L126.3 205.5L127.5 208.5L128.6 211.5L129.8 214.5L130.9 217.5L132.0 220.5L133.2 223.5L134.3 226.5L135.5 229.5L136.6 232.5L137.7 235.5L138.9 238.5L140.0 241.5L141.1 244.5L142.3 247.5L143.4 250.5L144.5 253.5L145.6 256.5L146.7 259.5L147.9 262.5L149.0 265.5L150.1 268.5L151.2 271.5L152.3 274.5L153.4 277.5L154.5 280.5L155.6 283.5L156.7 286.5L157.8 289.5L159.0 292.5L160.1 295.5L161.1 298.5L162.2 301.5L163.3 304.5L164.4 307.5L165.5 310.5L166.6 313.5L167.7 316.5L168.8 319.5L169.9 322.5L171.0 325.5L172.0 328.5L173.1 331.5L174.2 334.5L175.3 337.5L176.3 340.5L177.4 343.5L178.5 346.5L179.6 349.5L180.6 352.5L181.7 355.5L182.8 358.5L183.8 361.5L184.9 364.5L185.9 367.5L187.0 370.5L188.1 373.5L189.1 376.5L190.2 379.5L191.2 382.5L192.3 385.5L193.3 388.5L194.3 391.5L195.6 394.5L196.6 397.5L197.6 400.5L198.7 403.5L199.7 406.5L200.7 409.5L201.7 412.5L202.7 415.5L203.7 418.5L204.8 421.5L205.8 424.5L206.8 427.5L207.8 430.5L208.8 433.5L209.8 436.5L210.8 439.5L211.8 442.5L212.8 445.5L213.8 448.5L214.8 451.5L215.8 454.5L216.8 457.5L217.8 460.5L218.8 463.5L219.7 466.5L220.7 469.5L221.7 472.5L222.7 475.5L223.7 478.5L224.7 481.5L225.6 484.5L226.6 487.5L227.6 490.5L228.6 493.5L229.5 496.5L230.5 499.5L231.5 502.5L232.4 505.5L233.4 508.5L234.4 511.5L235.3 514.5L236.3 517.5L237.2 520.5L238.2 523.5L239.2 526.5L240.1 529.5L241.1 532.5L242.0 535.5L243.0 538.5L243.9 541.5L244.9 544.5L245.8 547.5L246.7 550.5L247.7 553.5L248.6 556.5L249.6 559.5L250.5 562.5L251.4 565.5L252.4 568.5L253.3 571.5L254.2 574.5L255.2 577.5L256.1 580.5L257.0 583.5L258.0 586.5" stroke="#104e8b" stroke-width="1" fill="none" />
<path d="M169.9 40.5L171.0 43.5L172.1 46.5L173.2 49.5L174.3 52.5L175.3 55.5L176.4 58.5L177.5 61.5L178.6 64.5L179.6 67.5L180.7 70.5L181.8 73.5L182.9 76.5L183.9 79.5L185.0 82.5L186.0 85.5L187.1 88.5L188.2 91.5L189.2 94.5L190.3 97.5L191.3 100.5L192.4 103.5L193.4 106.5L194.5 109.5L195.7 112.5L196.7 115.5L197.7 118.5L198.8 121.5L199.8 124.5L200.8 127.5L201.8 130.5L202.8 133.5L203.8 136.5L204.9 139.5L205.9 142.5L206.9 145.5L207.9 148.5L208.9 151.5L209.9 154.5L210.9 157.5L211.9 160.5L212.9 163.5L213.9 166.5L214.9 169.5L215.9 172.5L216.8 175.5L217.8 178.5L218.8 181.5L219.8 184.5L220.8 187.5L221.8 190.5L222.7 193.5L223.7 196.5L224.7 199.5L225.7 202.5L226.6 205.5L227.6 208.5L228.6 211.5L229.5 214.5L230.5 217.5L231.5 220.5L232.4 223.5L233.4 226.5L234.3 229.5L235.3 232.5L236.3 235.5L237.2 238.5L238.2 241.5L239.1 244.5L240.1 247.5L241.0 250.5L242.0 253.5L242.9 256.5L243.8 259.5L244.8 262.5L245.7 265.5L246.7 268.5L247.6 271.5L248.5 274.5L249.5 277.5L250.4 280.5L251.3 283.5L252.2 286.5L253.2 289.5L254.1 292.5L255.0 295.5L255.9 298.5L256.8 301.5L257.8 304.5L258.7 307.5L259.6 310.5L260.5 313.5L261.4 316.5L262.3 319.5L263.2 322.5L264.1 325.5L265.1 328.5L266.0 331.5L266.9 334.5L267.8 337.5L268.7 340.5L269.6 343.5L270.5 346.5L271.3 349.5L272.2 352.5L273.1 355.5L274.0 358.5L274.9 361.5L275.8 364.5L276.7 367.5L277.6 370.5L278.5 373.5L279.3 376.5L280.2 379.5L281.1 382.5L282.0 385.5L282.9 388.5L283.7 391.5L284.6 394.5L285.5 397.5L286.3 400.5L287.2 403.5L288.1 406.5L288.9 409.5L289.8 412.5L290.7 415.5L291.5 418.5L292.4 421.5L293.3 424.5L294.1 427.5L295.0 430.5L295.8 433.5L296.7 436.5L297.5 439.5L298.4 442.5L299.2 445.5L300.1 448.5L300.9 451.5L301.8 454.5L302.6 457.5L303.5 460.5L304.3 463.5L305.2 466.5L306.0 469.5L306.8 472.5L307.7 475.5L308.5 478.5L309.3 481.5L310.2 484.5L311.0 487.5L311.8 490.5L312.7 493.5L313.5 496.5L314.3 499.5L315.2 502.5L316.0 505.5L316.8 508.5L317.6 511.5L318.4 514.5L319.3 517.5L320.1 520.5L320.9 523.5L321.7 526.5L322.5 529.5L323.4 532.5L324.2 535.5L325.0 538.5L325.8 541.5L326.6 544.5L327.4 547.5L328.2 550.5L329.0 553.5L329.8 556.5L330.6 559.5L331.4 562.5L332.2 565.5L333.0 568.5L333.8 571.5L334.6 574.5L335.4 577.5L336.2 580.5L337.0 583.5L337.8 586.5" stroke="#104e8b" stroke-width="1" fill="none" />
<path d="M250.9 40.5L251.9 43.5L252.8 46.5L253.7 49.5L254.6 52.5L255.5 55.5L256.4 58.5L257.3 61.5L258.2 64.5L259.1 67.5L260.0 70.5L260.9 73.5L261.8 76.5L262.7 79.5L263.6 82.5L264.5 85.5L265.4 88.5L266.3 91.5L267.2 94.5L268.1 97.5L269.0 100.5L269.8 103.5L270.7 106.5L271.6 109.5L272.5 112.5L273.4 115.5L274.3 118.5L275.1 121.5L276.0 124.5L276.9 127.5L277.7 130.5L278.6 133.5L279.5 136.5L280.4 139.5L281.2 142.5L282.1 145.5L282.9 148.5L283.8 151.5L284.7 154.5L285.5 157.5L286.4 160.5L287.2 163.5L288.1 166.5L289.0 169.5L289.8 172.5L290.7 175.5L291.5 178.5L292.4 181.5L293.2 184.5L294.0 187.5L294.9 190.5L295.7 193.5L296.6 196.5L297.4 199.5L298.3 202.5L299.1 205.5L299.9 208.5L300.8 211.5L301.6 214.5L302.4 217.5L303.3 220.5L304.1 223.5L304.9 226.5L305.7 229.5L306.6 232.5L307.4 235.5L308.2 238.5L309.0 241.5L309.9 244.5L310.7 247.5L311.5 250.5L312.3 253.5L313.1 256.5L313.9 259.5L314.8 262.5L315.6 265.5L316.4 268.5L317.2 271.5L318.0 274.5L318.8 277.5L319.6 280.5L320.4 283.5L321.2 286.5L322.0 289.5L322.8 292.5L323.6 295.5L324.4 298.5L325.2 301.5L326.0 304.5L326.8 307.5L327.6 310.5L328.4 313.5L329.2 316.5L330.0 319.5L330.8 322.5L331.6 325.5L332.4 328.5L333.1 331.5L333.9 334.5L334.7 337.5L335.5 340.5L336.3 343.5L337.1 346.5L337.8 349.5L338.6 352.5L339.4 355.5L340.2 358.5L340.9 361.5L341.7 364.5L342.5 367.5L343.3 370.5L344.0 373.5L344.8 376.5L345.6 379.5L346.3 382.5L347.1 385.5L347.9 388.5L348.6 391.5L349.4 394.5L350.2 397.5L350.9 400.5L351.7 403.5L352.5 406.5L353.2 409.5L354.0 412.5L354.7 415.5L355.5 418.5L356.2 421.5L357.0 424.5L357.7 427.5L358.5 430.5L359.2 433.5L360.0 436.5L360.7 439.5L361.5 442.5L362.2 445.5L363.0 448.5L363.7 451.5L364.5 454.5L365.2 457.5L366.0 460.5L366.7 463.5L367.4 466.5L368.2 469.5L368.9 472.5L369.7 475.5L370.4 478.5L371.1 481.5L371.9 484.5L372.6 487.5L373.3 490.5L374.1 493.5L374.8 496.5L375.5 499.5L376.3 502.5L377.0 505.5L377.7 508.5L378.4 511.5L379.2 514.5L379.9 517.5L380.6 520.5L381.3 523.5L382.1 526.5L382.8 529.5L383.5 532.5L384.2 535.5L384.9 538.5L385.7 541.5L386.4 544.5L387.1 547.5L387.8 550.5L388.5 553.5L389.2 556.5L389.9 559.5L390.7 562.5L391.4 565.5L392.1 568.5L392.8 571.5L393.5 574.5L394.2 577.5L394.9 580.5L395.6 583.5L396.3 586.5" stroke="#104e8b" stroke-width="1" fill="none" />
<path d="M310.3 40.5L311.1 43.5L311.9 46.5L312.7 49.5L313.5 52.5L314.3 55.5L315.1 58.5L315.9 61.5L316.7 64.5L317.5 67.5L318.3 70.5L319.1 73.5L319.9 76.5L320.7 79.5L321.5 82.5L322.3 85.5L323.1 88.5L323.8 91.5L324.6 94.5L325.4 97.5L326.2 100.5L327.0 103.5L327.8 106.5L328.5 109.5L329.3 112.5L330.1 115.5L330.9 118.5L331.6 121.5L332.4 124.5L333.2 127.5L334.0 130.5L334.7 133.5L335.5 136.5L336.3 139.5L337.0 142.5L337.8 145.5L338.6 148.5L339.3 151.5L340.1 154.5L340.9 157.5L341.6 160.5L342.4 163.5L343.1 166.5L343.9 169.5L344.7 172.5L345.4 175.5L346.2 178.5L346.9 181.5L347.7 184.5L348.4 187.5L349.2 190.5L349.9 193.5L350.7 196.5L351.4 199.5L352.2 202.5L352.9 205.5L353.7 208.5L354.4 211.5L355.2 214.5L355.9 217.5L356.6 220.5L357.4 223.5L358.1 226.5L358.9 229.5L359.6 232.5L360.3 235.5L361.1 238.5L361.8 241.5L362.5 244.5L363.3 247.5L364.0 250.5L364.7 253.5L365.5 256.5L366.2 259.5L366.9 262.5L367.7 265.5L368.4 268.5L369.1 271.5L369.8 274.5L370.6 277.5L371.3 280.5L372.0 283.5L372.7 286.5L373.4 289.5L374.2 292.5L374.9 295.5L375.6 298.5L376.3 301.5L377.0 304.5L377.7 307.5L378.5 310.5L379.2 313.5L379.9 316.5L380.6 319.5L381.3 322.5L382.0 325.5L382.7 328.5L383.4 331.5L384.1 334.5L384.9 337.5L385.6 340.5L386.3 343.5L387.0 346.5L387.7 349.5L388.4 352.5L389.1 355.5L389.8 358.5L390.5 361.5L391.2 364.5L391.9 367.5L392.6 370.5L393.3 373.5L394.0 376.5L394.7 379.5L395.4 382.5L396.1 385.5L396.7 388.5L397.4 391.5L398.1 394.5L398.8 397.5L399.5 400.5L400.2 403.5L400.9 406.5L401.6 409.5L402.3 412.5L402.9 415.5L403.6 418.5L404.3 421.5L405.0 424.5L405.7 427.5L406.4 430.5L407.1 433.5L407.7 436.5L408.4 439.5L409.1 442.5L409.8 445.5L410.5 448.5L411.1 451.5L411.8 454.5L412.5 457.5L413.2 460.5L413.8 463.5L414.5 466.5L415.2 469.5L415.8 472.5L416.5 475.5L417.2 478.5L417.9 481.5L418.5 484.5L419.2 487.5L419.9 490.5L420.5 493.5L421.2 496.5L421.9 499.5L422.5 502.5L423.2 505.5L423.9 508.5L424.5 511.5L425.2 514.5L425.9 517.5L426.5 520.5L427.2 523.5L427.8 526.5L428.5 529.5L429.2 532.5L429.8 535.5L430.5 538.5L431.1 541.5L431.8 544.5L432.4 547.5L433.1 550.5L433.7 553.5L434.4 556.5L435.1 559.5L435.7 562.5L436.4 565.5L437.0 568.5L437.7 571.5L438.3 574.5L439.0 577.5L439.6 580.5L440.3 583.5L440.9 586.5" stroke="#104e8b" stroke-width="1" fill="none" />
<path d="M355.5 40.5L356.2 43.5L357.0 46.5L357.7 49.5L358.4 52.5L359.2 55.5L359.9 58.5L360.6 61.5L361.3 64.5L362.1 67.5L362.8 70.5L363.5 73.5L364.2 76.5L364.9 79.5L365.7 82.5L366.4 85.5L367.1 88.5L367.8 91.5L368.5 94.5L369.2 97.5L369.9 100.5L370.7 103.5L371.4 106.5L372.1 109.5L372.8 112.5L373.5 115.5L374.2 118.5L374.9 121.5L375.6 124.5L376.3 127.5L377.0 130.5L377.7 133.5L378.4 136.5L379.1 139.5L379.8 142.5L380.5 145.5L381.2 148.5L381.9 151.5L382.6 154.5L383.3 157.5L384.0 160.5L384.7 163.5L385.4 166.5L386.1 169.5L386.8 172.5L387.5 175.5L388.2 178.5L388.9 181.5L389.6 184.5L390.3 187.5L391.0 190.5L391.6 193.5L392.3 196.5L393.0 199.5L393.7 202.5L394.4 205.5L395.1 208.5L395.8 211.5L396.4 214.5L397.1 217.5L397.8 220.5L398.5 223.5L399.2 226.5L399.8 229.5L400.5 232.5L401.2 235.5L401.9 238.5L402.6 241.5L403.2 244.5L403.9 247.5L404.6 250.5L405.3 253.5L405.9 256.5L406.6 259.5L407.3 262.5L407.9 265.5L408.6 268.5L409.3 271.5L410.0 274.5L410.6 277.5L411.3 280.5L412.0 283.5L412.6 286.5L413.3 289.5L413.9 292.5L414.6 295.5L415.3 298.5L415.9 301.5L416.6 304.5L417.3 307.5L417.9 310.5L418.6 313.5L419.2 316.5L419.9 319.5L420.6 322.5L421.2 325.5L421.9 328.5L422.5 331.5L423.2 334.5L423.8 337.5L424.5 340.5L425.1 343.5L425.8 346.5L426.5 349.5L427.1 352.5L427.8 355.5L428.4 358.5L429.1 361.5L429.7 364.5L430.4 367.5L431.0 370.5L431.6 373.5L432.3 376.5L432.9 379.5L433.6 382.5L434.2 385.5L434.9 388.5L435.5 391.5L436.2 394.5L436.8 397.5L437.4 400.5L438.1 403.5L438.7 406.5L439.4 409.5L440.0 412.5L440.6 415.5L441.3 418.5L441.9 421.5L442.6 424.5L443.2 427.5L443.8 430.5L444.5 433.5L445.1 436.5L445.7 439.5L446.4 442.5L447.0 445.5L447.6 448.5L448.3 451.5L448.9 454.5L449.5 457.5L450.2 460.5L450.8 463.5L451.4 466.5L452.0 469.5L452.7 472.5L453.3 475.5L453.9 478.5L454.5 481.5L455.2 484.5L455.8 487.5L456.4 490.5L457.0 493.5L457.7 496.5L458.3 499.5L458.9 502.5L459.5 505.5L460.2 508.5L460.8 511.5L461.4 514.5L462.0 517.5L462.6 520.5L463.3 523.5L463.9 526.5L464.5 529.5L465.1 532.5L465.7 535.5L466.3 538.5L467.0 541.5L467.6 544.5L468.2 547.5L468.8 550.5L469.4 553.5L470.0 556.5L470.6 559.5L471.2 562.5L471.9 565.5L472.5 568.5L473.1 571.5L473.7 574.5L474.3 577.5L474.9 580.5L475.5 583.5L476.1 586.5" stroke="#104e8b" stroke-width="1" fill="none" />
<path d="M391.1 40.5L391.8 43.5L392.5 46.5L393.1 49.5L393.8 52.5L394.5 55.5L395.2 58.5L395.8 61.5L396.5 64.5L397.2 67.5L397.9 70.5L398.5 73.5L399.2 76.5L399.9 79.5L400.5 82.5L401.2 85.5L401.9 88.5L402.6 91.5L403.2 94.5L403.9 97.5L404.6 100.5L405.2 103.5L405.9 106.5L406.5 109.5L407.2 112.5L407.9 115.5L408.5 118.5L409.2 121.5L409.9 124.5L410.5 127.5L411.2 130.5L411.8 133.5L412.5 136.5L413.1 139.5L413.8 142.5L414.5 145.5L415.1 148.5L415.8 151.5L416.4 154.5L417.1 157.5L417.7 160.5L418.4 163.5L419.0 166.5L419.7 169.5L420.3 172.5L421.0 175.5L421.6 178.5L422.3 181.5L422.9 184.5L423.6 187.5L424.2 190.5L424.9 193.5L425.5 196.5L426.1 199.5L426.8 202.5L427.4 205.5L428.1 208.5L428.7 211.5L429.4 214.5L430.0 217.5L430.6 220.5L431.3 223.5L431.9 226.5L432.6 229.5L433.2 232.5L433.8 235.5L434.5 238.5L435.1 241.5L435.7 244.5L436.4 247.5L437.0 250.5L437.6 253.5L438.3 256.5L438.9 259.5L439.5 262.5L440.2 265.5L440.8 268.5L441.4 271.5L442.1 274.5L442.7 277.5L443.3 280.5L443.9 283.5L444.6 286.5L445.2 289.5L445.8 292.5L446.5 295.5L447.1 298.5L447.7 301.5L448.3 304.5L449.0 307.5L449.6 310.5L450.2 313.5L450.8 316.5L451.4 319.5L452.1 322.5L452.7 325.5L453.3 328.5L453.9 331.5L454.5 334.5L455.2 337.5L455.8 340.5L456.4 343.5L457.0 346.5L457.6 349.5L458.2 352.5L458.9 355.5L459.5 358.5L460.1 361.5L460.7 364.5L461.3 367.5L461.9 370.5L462.5 373.5L463.2 376.5L463.8 379.5L464.4 382.5L465.0 385.5L465.6 388.5L466.2 391.5L466.8 394.5L467.4 397.5L468.0 400.5L468.6 403.5L469.2 406.5L469.8 409.5L470.5 412.5L471.1 415.5L471.7 418.5L472.3 421.5L472.9 424.5L473.5 427.5L474.1 430.5L474.7 433.5L475.3 436.5L475.9 439.5L476.5 442.5L477.1 445.5L477.7 448.5L478.3 451.5L478.9 454.5L479.5 457.5L480.1 460.5L480.7 463.5L481.3 466.5L481.9 469.5L482.5 472.5L483.1 475.5L483.7 478.5L484.3 481.5L484.9 484.5L485.4 487.5L486.0 490.5L486.6 493.5L487.2 496.5L487.8 499.5L488.4 502.5L489.0 505.5L489.6 508.5L490.2 511.5L490.8 514.5L491.4 517.5L492.0 520.5L492.5 523.5L493.1 526.5L493.7 529.5L494.3 532.5L494.9 535.5L495.5 538.5L496.1 541.5L496.6 544.5L497.2 547.5L497.8 550.5L498.4 553.5L499.0 556.5L499.6 559.5L500.2 562.5L500.7 565.5L501.3 568.5L501.9 571.5L502.5 574.5L503.1 577.5L503.6 580.5L504.2 583.5L504.8 586.5" stroke="#104e8b" stroke-width="1" fill="none" />
<path d="M420.0 40.5L420.7 43.5L421.3 46.5L421.9 49.5L422.6 52.5L423.2 55.5L423.9 58.5L424.5 61.5L425.1 64.5L425.8 67.5L426.4 70.5L427.0 73.5L427.7 76.5L428.3 79.5L429.0 82.5L429.6 85.5L430.2 88.5L430.9 91.5L431.5 94.5L432.1 97.5L432.7 100.5L433.4 103.5L434.0 106.5L434.6 109.5L435.3 112.5L435.9 115.5L436.5 118.5L437.2 121.5L437.8 124.5L438.4 127.5L439.0 130.5L439.7 133.5L440.3 136.5L440.9 139.5L441.5 142.5L442.2 145.5L442.8 148.5L443.4 151.5L444.0 154.5L444.6 157.5L445.3 160.5L445.9 163.5L446.5 166.5L447.1 169.5L447.7 172.5L448.4 175.5L449.0 178.5L449.6 181.5L450.2 184.5L450.8 187.5L451.4 190.5L452.1 193.5L452.7 196.5L453.3 199.5L453.9 202.5L454.5 205.5L455.1 208.5L455.7 211.5L456.3 214.5L457.0 217.5L457.6 220.5L458.2 223.5L458.8 226.5L459.4 229.5L460.0 232.5L460.6 235.5L461.2 238.5L461.8 241.5L462.4 244.5L463.0 247.5L463.6 250.5L464.2 253.5L464.9 256.5L465.5 259.5L466.1 262.5L466.7 265.5L467.3 268.5L467.9 271.5L468.5 274.5L469.1 277.5L469.7 280.5L470.3 283.5L470.9 286.5L471.5 289.5L472.1 292.5L472.7 295.5L473.3 298.5L473.9 301.5L474.5 304.5L475.1 307.5L475.7 310.5L476.3 313.5L476.8 316.5L477.4 319.5L478.0 322.5L478.6 325.5L479.2 328.5L479.8 331.5L480.4 334.5L481.0 337.5L481.6 340.5L482.2 343.5L482.8 346.5L483.4 349.5L484.0 352.5L484.5 355.5L485.1 358.5L485.7 361.5L486.3 364.5L486.9 367.5L487.5 370.5L488.1 373.5L488.7 376.5L489.2 379.5L489.8 382.5L490.4 385.5L491.0 388.5L491.6 391.5L492.2 394.5L492.8 397.5L493.3 400.5L493.9 403.5L494.5 406.5L495.1 409.5L495.7 412.5L496.2 415.5L496.8 418.5L497.4 421.5L498.0 424.5L498.6 427.5L499.1 430.5L499.7 433.5L500.3 436.5L500.9 439.5L501.5 442.5L502.0 445.5L502.6 448.5L503.2 451.5L503.8 454.5L504.3 457.5L504.9 460.5L505.5 463.5L506.1 466.5L506.6 469.5L507.2 472.5L507.8 475.5L508.4 478.5L508.9 481.5L509.5 484.5L510.1 487.5L510.6 490.5L511.2 493.5L511.8 496.5L512.4 499.5L512.9 502.5L513.5 505.5L514.1 508.5L514.6 511.5L515.2 514.5L515.8 517.5L516.3 520.5L516.9 523.5L517.5 526.5L518.0 529.5L518.6 532.5L519.2 535.5L519.7 538.5L520.3 541.5L520.9 544.5L521.4 547.5L522.0 550.5L522.5 553.5L523.1 556.5L523.7 559.5L524.2 562.5L524.8 565.5L525.4 568.5L525.9 571.5L526.5 574.5L527.0 577.5L527.6 580.5L528.2 583.5L528.7 586.5" stroke="#104e8b" stroke-width="1" fill="none" />
<path d="M-153.6 24.4L101.3 596.5" stroke="#008b00" stroke-width="1" fill="none" />
<path d="M0.8 24.4L275.8 596.5" stroke="#008b00" stroke-width="1" fill="none" />
<path d="M155.2 24.4L450.4 596.5" stroke="#008b00" stroke-width="1" fill="none" />
<path d="M309.6 24.4L625.0 596.5" stroke="#008b00" stroke-width="1" fill="none" />
<path d="M464.0 24.4L799.5 596.5" stroke="#008b00" stroke-width="1" fill="none" />
</g>
<text transform="translate(89.90 517.60) scale(0.98 1)" font-size="13" fill="#8b008b" text-anchor="middle" filter="url(#th)" xml:space="preserve">1</text>
<text transform="translate(163.44 517.60) scale(0.98 1)" font-size="13" fill="#8b008b" text-anchor="middle" filter="url(#th)" xml:space="preserve">2</text>
<text transform="translate(242.33 517.60) scale(0.98 1)" font-size="13" fill="#8b008b" text-anchor="middle" filter="url(#th)" xml:space="preserve">4</text>
<text transform="translate(310.41 517.60) scale(0.98 1)" font-size="13" fill="#8b008b" text-anchor="middle" filter="url(#th)" xml:space="preserve">7</text>
<text transform="translate(356.13 517.60) scale(0.98 1)" font-size="13" fill="#8b008b" text-anchor="middle" filter="url(#th)" xml:space="preserve">10</text>
<text transform="translate(418.97 517.60) scale(0.98 1)" font-size="13" fill="#8b008b" text-anchor="middle" filter="url(#th)" xml:space="preserve">16</text>
<text transform="translate(475.21 517.60) scale(0.98 1)" font-size="13" fill="#8b008b" text-anchor="middle" filter="url(#th)" xml:space="preserve">24</text>
<text transform="translate(516.81 517.60) scale(0.98 1)" font-size="13" fill="#8b008b" text-anchor="middle" filter="url(#th)" xml:space="preserve">32</text>
<text transform="translate(549.30 517.60) scale(0.98 1)" font-size="13" fill="#8b008b" text-anchor="middle" filter="url(#th)" xml:space="preserve">40g/kg</text>
<text transform="translate(68.20 45.60) scale(0.968 1)" font-size="13" fill="#000" text-anchor="start" filter="url(#th)" xml:space="preserve">3128</text>
<text transform="translate(100.50 45.60) scale(0.75 1)" font-size="13" fill="#000" text-anchor="start" filter="url(#th)" xml:space="preserve">m</text>
<text transform="translate(68.20 296.60) scale(0.968 1)" font-size="13" fill="#000" text-anchor="start" filter="url(#th)" xml:space="preserve">1539</text>
<text transform="translate(100.50 296.60) scale(0.75 1)" font-size="13" fill="#000" text-anchor="start" filter="url(#th)" xml:space="preserve">m</text>
<text transform="translate(68.20 410.60) scale(0.968 1)" font-size="13" fill="#000" text-anchor="start" filter="url(#th)" xml:space="preserve">836</text>
<text transform="translate(93.50 410.60) scale(0.75 1)" font-size="13" fill="#000" text-anchor="start" filter="url(#th)" xml:space="preserve">m</text>
<text transform="translate(68.20 517.60) scale(0.968 1)" font-size="13" fill="#000" text-anchor="start" filter="url(#th)" xml:space="preserve">186</text>
<text transform="translate(93.50 517.60) scale(0.75 1)" font-size="13" fill="#000" text-anchor="start" filter="url(#th)" xml:space="preserve">m</text>
<path d="M262.5 42.0L274.5 86.0L282.4 120.0L284.8 130.0L295.6 172.0L303.1 200.0L306.7 213.0L317.5 254.0L321.9 270.0L327.3 293.0L334.1 332.0L336.3 350.0L340.3 370.0L342.5 389.3L333.3 415.5L320.6 428.8L319.0 452.0L319.2 460.0L322.8 479.0L333.1 514.5L334.3 542.5" stroke="#000" stroke-width="3" fill="none" stroke-linejoin="round"/>
<path d="M64.3 418.3L251.5 429.7L298.5 458.6L280.0 514.5L292.5 541.5" stroke="#000" stroke-width="3" fill="none" stroke-linejoin="round"/>
<path d="M349.0 541.5L279.4 402.6L278.5 399.6L277.6 396.6L276.8 393.6L275.9 390.6L275.0 387.6L274.1 384.6L273.2 381.6L272.3 378.6L271.4 375.6L270.5 372.6L269.6 369.6L268.7 366.6L267.8 363.6L266.9 360.6L266.0 357.6L265.1 354.6L264.2 351.6L263.3 348.6L262.4 345.6L261.5 342.6L260.6 339.6L259.7 336.6L258.7 333.6L257.8 330.6L256.9 327.6L256.0 324.6L255.1 321.6L254.1 318.6L253.2 315.6L252.3 312.6L251.4 309.6L250.4 306.6L249.5 303.6L248.6 300.6L247.6 297.6L246.7 294.6L245.8 291.6L244.8 288.6L243.9 285.6L242.9 282.6L242.0 279.6L241.1 276.6L240.1 273.6L239.2 270.6L238.2 267.6L237.3 264.6L236.3 261.6L235.4 258.6L234.4 255.6L233.4 252.6L232.5 249.6L231.5 246.6L230.6 243.6L229.6 240.6L228.6 237.6L227.7 234.6L226.7 231.6L225.7 228.6L224.7 225.6L223.8 222.6L222.8 219.6L221.8 216.6L220.8 213.6L219.8 210.6L218.9 207.6L217.9 204.6L216.9 201.6L215.9 198.6L214.9 195.6L213.9 192.6L212.9 189.6L211.9 186.6L210.9 183.6L209.9 180.6L208.9 177.6L207.9 174.6L206.9 171.6L205.9 168.6L204.9 165.6L203.9 162.6L202.9 159.6L201.9 156.6L200.8 153.6L199.8 150.6L198.8 147.6L197.8 144.6L196.8 141.6L195.7 138.6L194.7 135.6L193.7 132.6L192.6 129.6L191.6 126.6L190.6 123.6L189.5 120.6L188.5 117.6L187.5 114.6L186.4 111.6L185.4 108.6L184.3 105.6L183.3 102.6L182.2 99.6L181.2 96.6L180.1 93.6L179.1 90.6L178.0 87.6L176.9 84.6L175.9 81.6L174.8 78.6L173.8 75.6L172.7 72.6L171.6 69.6L170.5 66.6L169.5 63.6L168.4 60.6L167.3 57.6L166.2 54.6L165.1 51.6L164.1 48.6L163.0 45.6L161.9 42.6L161.7 42.0" stroke="#666666" stroke-width="2" fill="none" />
<path d="M669.4 42.5L653.8 68.1L644.0 66.2" stroke="#000" stroke-width="1" fill="none" />
<path d="M656.5 64.4L651.2 63.4" stroke="#000" stroke-width="1" fill="none" />
<path d="M669.4 86.2L656.5 113.1L646.2 112.3" stroke="#000" stroke-width="1" fill="none" />
<path d="M669.4 116.2L674.5 145.5L665.4 151.6" stroke="#000" stroke-width="1" fill="none" />
<path d="M669.4 220.3L656.8 247.3L646.1 246.3" stroke="#000" stroke-width="1" fill="none" />
<path d="M669.4 241.2L669.4 271.1L660.1 274.6" stroke="#000" stroke-width="1" fill="none" />
<path d="M669.3 293.2L677.3 322.1L669.1 328.6" stroke="#000" stroke-width="1" fill="none" />
<path d="M669.4 407.4L694.6 424.4L691.3 435.0" stroke="#000" stroke-width="1" fill="none" />
<path d="M689.7 421.2L688.4 426.6" stroke="#000" stroke-width="1" fill="none" />
<path d="M669.4 441.5L677.4 470.1L669.3 476.5" stroke="#000" stroke-width="1" fill="none" />
<path d="M675.6 465.8L667.3 471.6" stroke="#000" stroke-width="1" fill="none" />
<path d="M669.3 514.1L690.8 535.7L686.3 544.6" stroke="#000" stroke-width="1" fill="none" />
<path d="M669.3 541.3L674.6 571.8" stroke="#000" stroke-width="1" fill="none" />
<text transform="translate(50.00 47.90) scale(0.965 1)" font-size="18.5" fill="#00008b" text-anchor="end" stroke="#00008b" stroke-width="0.4" filter="url(#th)" xml:space="preserve">700</text>
<text transform="translate(50.00 134.90) scale(0.965 1)" font-size="18.5" fill="#00008b" text-anchor="end" stroke="#00008b" stroke-width="0.4" filter="url(#th)" xml:space="preserve">750</text>
<text transform="translate(50.00 218.90) scale(0.965 1)" font-size="18.5" fill="#00008b" text-anchor="end" stroke="#00008b" stroke-width="0.4" filter="url(#th)" xml:space="preserve">800</text>
<text transform="translate(50.00 298.90) scale(0.965 1)" font-size="18.5" fill="#00008b" text-anchor="end" stroke="#00008b" stroke-width="0.4" filter="url(#th)" xml:space="preserve">850</text>
<text transform="translate(50.00 374.90) scale(0.965 1)" font-size="18.5" fill="#00008b" text-anchor="end" stroke="#00008b" stroke-width="0.4" filter="url(#th)" xml:space="preserve">900</text>
<text transform="translate(50.00 448.90) scale(0.965 1)" font-size="18.5" fill="#00008b" text-anchor="end" stroke="#00008b" stroke-width="0.4" filter="url(#th)" xml:space="preserve">950</text>
<text transform="translate(50.00 519.90) scale(0.965 1)" font-size="18.5" fill="#00008b" text-anchor="end" stroke="#00008b" stroke-width="0.4" filter="url(#th)" xml:space="preserve">1000</text>
<text transform="translate(50.00 587.90) scale(0.965 1)" font-size="18.5" fill="#00008b" text-anchor="end" stroke="#00008b" stroke-width="0.4" filter="url(#th)" xml:space="preserve">1050</text>
<text transform="translate(49.90 610.50) scale(0.965 1)" font-size="18.5" fill="#00008b" text-anchor="start" stroke="#00008b" stroke-width="0.4" filter="url(#th)" xml:space="preserve">-20</text>
<text transform="translate(135.70 610.50) scale(0.965 1)" font-size="18.5" fill="#00008b" text-anchor="start" stroke="#00008b" stroke-width="0.4" filter="url(#th)" xml:space="preserve">-10</text>
<text transform="translate(237.80 610.50) scale(0.965 1)" font-size="18.5" fill="#00008b" text-anchor="middle" stroke="#00008b" stroke-width="0.4" filter="url(#th)" xml:space="preserve">0</text>
<text transform="translate(323.80 610.50) scale(0.965 1)" font-size="18.5" fill="#00008b" text-anchor="middle" stroke="#00008b" stroke-width="0.4" filter="url(#th)" xml:space="preserve">10</text>
<text transform="translate(409.80 610.50) scale(0.965 1)" font-size="18.5" fill="#00008b" text-anchor="middle" stroke="#00008b" stroke-width="0.4" filter="url(#th)" xml:space="preserve">20</text>
<text transform="translate(495.80 610.50) scale(0.965 1)" font-size="18.5" fill="#00008b" text-anchor="middle" stroke="#00008b" stroke-width="0.4" filter="url(#th)" xml:space="preserve">30</text>
<text transform="translate(581.80 610.50) scale(0.965 1)" font-size="18.5" fill="#00008b" text-anchor="middle" stroke="#00008b" stroke-width="0.4" filter="url(#th)" xml:space="preserve">40</text>
<text transform="translate(3.90 29.70) scale(0.906 1)" font-size="19.5" fill="#000" text-anchor="start" font-weight="bold" filter="url(#th)" xml:space="preserve">47646</text>
<text transform="translate(63.50 29.70) scale(0.98 1)" font-size="19.5" fill="#000" text-anchor="start" font-weight="bold" filter="url(#th)" xml:space="preserve">Tateno</text>
<text transform="translate(4.30 632.70) scale(0.93 1)" font-size="19.5" fill="#000" text-anchor="start" font-weight="bold" filter="url(#th)" xml:space="preserve">12Z 17 Apr 2026</text>
<text transform="translate(367.70 632.70) scale(0.93 1)" font-size="19.5" fill="#000" text-anchor="start" font-weight="bold" filter="url(#th)" xml:space="preserve">University of Wyoming</text>
<text transform="translate(710.50 60.70) scale(0.985 1)" font-size="12.3" fill="#000" text-anchor="start" filter="url(#th)" xml:space="preserve">SLAT</text>
<text transform="translate(753.40 60.70) scale(1.02 1)" font-size="12.3" fill="#000" text-anchor="start" filter="url(#th)" xml:space="preserve">36.05</text>
<text transform="translate(710.50 75.74) scale(0.985 1)" font-size="12.3" fill="#000" text-anchor="start" filter="url(#th)" xml:space="preserve">SLON</text>
<text transform="translate(753.40 75.74) scale(1.02 1)" font-size="12.3" fill="#000" text-anchor="start" filter="url(#th)" xml:space="preserve">140.13</text>
<text transform="translate(710.50 90.78) scale(0.985 1)" font-size="12.3" fill="#000" text-anchor="start" filter="url(#th)" xml:space="preserve">SELV</text>
<text transform="translate(753.40 90.78) scale(1.02 1)" font-size="12.3" fill="#000" text-anchor="start" filter="url(#th)" xml:space="preserve">31.00</text>
<text transform="translate(710.50 105.82) scale(0.985 1)" font-size="12.3" fill="#000" text-anchor="start" filter="url(#th)" xml:space="preserve">SHOW</text>
<text transform="translate(753.40 105.82) scale(1.02 1)" font-size="12.3" fill="#000" text-anchor="start" filter="url(#th)" xml:space="preserve">14.68</text>
<text transform="translate(710.50 120.86) scale(0.985 1)" font-size="12.3" fill="#000" text-anchor="start" filter="url(#th)" xml:space="preserve">LIFT</text>
<text transform="translate(753.40 120.86) scale(1.02 1)" font-size="12.3" fill="#000" text-anchor="start" filter="url(#th)" xml:space="preserve">13.66</text>
<text transform="translate(710.50 135.90) scale(0.985 1)" font-size="12.3" fill="#000" text-anchor="start" filter="url(#th)" xml:space="preserve">LFTV</text>
<text transform="translate(753.40 135.90) scale(1.02 1)" font-size="12.3" fill="#000" text-anchor="start" filter="url(#th)" xml:space="preserve">13.63</text>
<text transform="translate(710.50 150.94) scale(0.985 1)" font-size="12.3" fill="#000" text-anchor="start" filter="url(#th)" xml:space="preserve">SWET</text>
<text transform="translate(753.40 150.94) scale(1.02 1)" font-size="12.3" fill="#000" text-anchor="start" filter="url(#th)" xml:space="preserve">75.00</text>
<text transform="translate(710.50 165.98) scale(0.985 1)" font-size="12.3" fill="#000" text-anchor="start" filter="url(#th)" xml:space="preserve">KINX</text>
<text transform="translate(753.40 165.98) scale(1.02 1)" font-size="12.3" fill="#000" text-anchor="start" filter="url(#th)" xml:space="preserve">-42.7</text>
<text transform="translate(710.50 181.02) scale(0.985 1)" font-size="12.3" fill="#000" text-anchor="start" filter="url(#th)" xml:space="preserve">CTOT</text>
<text transform="translate(753.40 181.02) scale(1.02 1)" font-size="12.3" fill="#000" text-anchor="start" filter="url(#th)" xml:space="preserve">-7.10</text>
<text transform="translate(710.50 196.06) scale(0.985 1)" font-size="12.3" fill="#000" text-anchor="start" filter="url(#th)" xml:space="preserve">VTOT</text>
<text transform="translate(753.40 196.06) scale(1.02 1)" font-size="12.3" fill="#000" text-anchor="start" filter="url(#th)" xml:space="preserve">24.90</text>
<text transform="translate(710.50 211.10) scale(0.985 1)" font-size="12.3" fill="#000" text-anchor="start" filter="url(#th)" xml:space="preserve">TOTL</text>
<text transform="translate(753.40 211.10) scale(1.02 1)" font-size="12.3" fill="#000" text-anchor="start" filter="url(#th)" xml:space="preserve">17.80</text>
<text transform="translate(710.50 226.14) scale(0.985 1)" font-size="12.3" fill="#000" text-anchor="start" filter="url(#th)" xml:space="preserve">CAPE</text>
<text transform="translate(753.40 226.14) scale(1.02 1)" font-size="12.3" fill="#000" text-anchor="start" filter="url(#th)" xml:space="preserve">0.00</text>
<text transform="translate(710.50 241.18) scale(0.985 1)" font-size="12.3" fill="#000" text-anchor="start" filter="url(#th)" xml:space="preserve">CAPV</text>
<text transform="translate(753.40 241.18) scale(1.02 1)" font-size="12.3" fill="#000" text-anchor="start" filter="url(#th)" xml:space="preserve">0.00</text>
<text transform="translate(710.50 256.22) scale(0.985 1)" font-size="12.3" fill="#000" text-anchor="start" filter="url(#th)" xml:space="preserve">CINS</text>
<text transform="translate(753.40 256.22) scale(1.02 1)" font-size="12.3" fill="#000" text-anchor="start" filter="url(#th)" xml:space="preserve">0.00</text>
<text transform="translate(710.50 271.26) scale(0.985 1)" font-size="12.3" fill="#000" text-anchor="start" filter="url(#th)" xml:space="preserve">CINV</text>
<text transform="translate(753.40 271.26) scale(1.02 1)" font-size="12.3" fill="#000" text-anchor="start" filter="url(#th)" xml:space="preserve">0.00</text>
<text transform="translate(710.50 286.30) scale(0.985 1)" font-size="12.3" fill="#000" text-anchor="start" filter="url(#th)" xml:space="preserve">EQLV</text>
<text transform="translate(753.40 286.30) scale(1.02 1)" font-size="12.3" fill="#000" text-anchor="start" filter="url(#th)" xml:space="preserve">-9999</text>
<text transform="translate(710.50 301.34) scale(0.985 1)" font-size="12.3" fill="#000" text-anchor="start" filter="url(#th)" xml:space="preserve">EQTV</text>
<text transform="translate(753.40 301.34) scale(1.02 1)" font-size="12.3" fill="#000" text-anchor="start" filter="url(#th)" xml:space="preserve">-9999</text>
<text transform="translate(710.50 316.38) scale(0.985 1)" font-size="12.3" fill="#000" text-anchor="start" filter="url(#th)" xml:space="preserve">LFCT</text>
<text transform="translate(753.40 316.38) scale(1.02 1)" font-size="12.3" fill="#000" text-anchor="start" filter="url(#th)" xml:space="preserve">-9999</text>
<text transform="translate(710.50 331.42) scale(0.985 1)" font-size="12.3" fill="#000" text-anchor="start" filter="url(#th)" xml:space="preserve">LFCV</text>
<text transform="translate(753.40 331.42) scale(1.02 1)" font-size="12.3" fill="#000" text-anchor="start" filter="url(#th)" xml:space="preserve">-9999</text>
<text transform="translate(710.50 346.46) scale(0.985 1)" font-size="12.3" fill="#000" text-anchor="start" filter="url(#th)" xml:space="preserve">BRCH</text>
<text transform="translate(753.40 346.46) scale(1.02 1)" font-size="12.3" fill="#000" text-anchor="start" filter="url(#th)" xml:space="preserve">0.00</text>
<text transform="translate(710.50 361.50) scale(0.985 1)" font-size="12.3" fill="#000" text-anchor="start" filter="url(#th)" xml:space="preserve">BRCV</text>
<text transform="translate(753.40 361.50) scale(1.02 1)" font-size="12.3" fill="#000" text-anchor="start" filter="url(#th)" xml:space="preserve">0.00</text>
<text transform="translate(710.50 376.54) scale(0.985 1)" font-size="12.3" fill="#000" text-anchor="start" filter="url(#th)" xml:space="preserve">LCLT</text>
<text transform="translate(753.40 376.54) scale(1.02 1)" font-size="12.3" fill="#000" text-anchor="start" filter="url(#th)" xml:space="preserve">278.0</text>
<text transform="translate(710.50 391.58) scale(0.985 1)" font-size="12.3" fill="#000" text-anchor="start" filter="url(#th)" xml:space="preserve">LCLP</text>
<text transform="translate(753.40 391.58) scale(1.02 1)" font-size="12.3" fill="#000" text-anchor="start" filter="url(#th)" xml:space="preserve">922.1</text>
<text transform="translate(710.50 406.62) scale(0.985 1)" font-size="12.3" fill="#000" text-anchor="start" filter="url(#th)" xml:space="preserve">LCLE</text>
<text transform="translate(753.40 406.62) scale(1.02 1)" font-size="12.3" fill="#000" text-anchor="start" filter="url(#th)" xml:space="preserve">301.1</text>
<text transform="translate(710.50 421.66) scale(0.985 1)" font-size="12.3" fill="#000" text-anchor="start" filter="url(#th)" xml:space="preserve">MLTH</text>
<text transform="translate(753.40 421.66) scale(1.02 1)" font-size="12.3" fill="#000" text-anchor="start" filter="url(#th)" xml:space="preserve">284.5</text>
<text transform="translate(710.50 436.70) scale(0.985 1)" font-size="12.3" fill="#000" text-anchor="start" filter="url(#th)" xml:space="preserve">MLMR</text>
<text transform="translate(753.40 436.70) scale(1.02 1)" font-size="12.3" fill="#000" text-anchor="start" filter="url(#th)" xml:space="preserve">5.92</text>
<text transform="translate(710.50 451.74) scale(0.985 1)" font-size="12.3" fill="#000" text-anchor="start" filter="url(#th)" xml:space="preserve">THCK</text>
<text transform="translate(753.40 451.74) scale(1.02 1)" font-size="12.3" fill="#000" text-anchor="start" filter="url(#th)" xml:space="preserve">5564.</text>
<text transform="translate(710.50 466.78) scale(0.985 1)" font-size="12.3" fill="#000" text-anchor="start" filter="url(#th)" xml:space="preserve">PWAT</text>
<text transform="translate(753.40 466.78) scale(1.02 1)" font-size="12.3" fill="#000" text-anchor="start" filter="url(#th)" xml:space="preserve">8.06</text>
</svg>
</body></html>
